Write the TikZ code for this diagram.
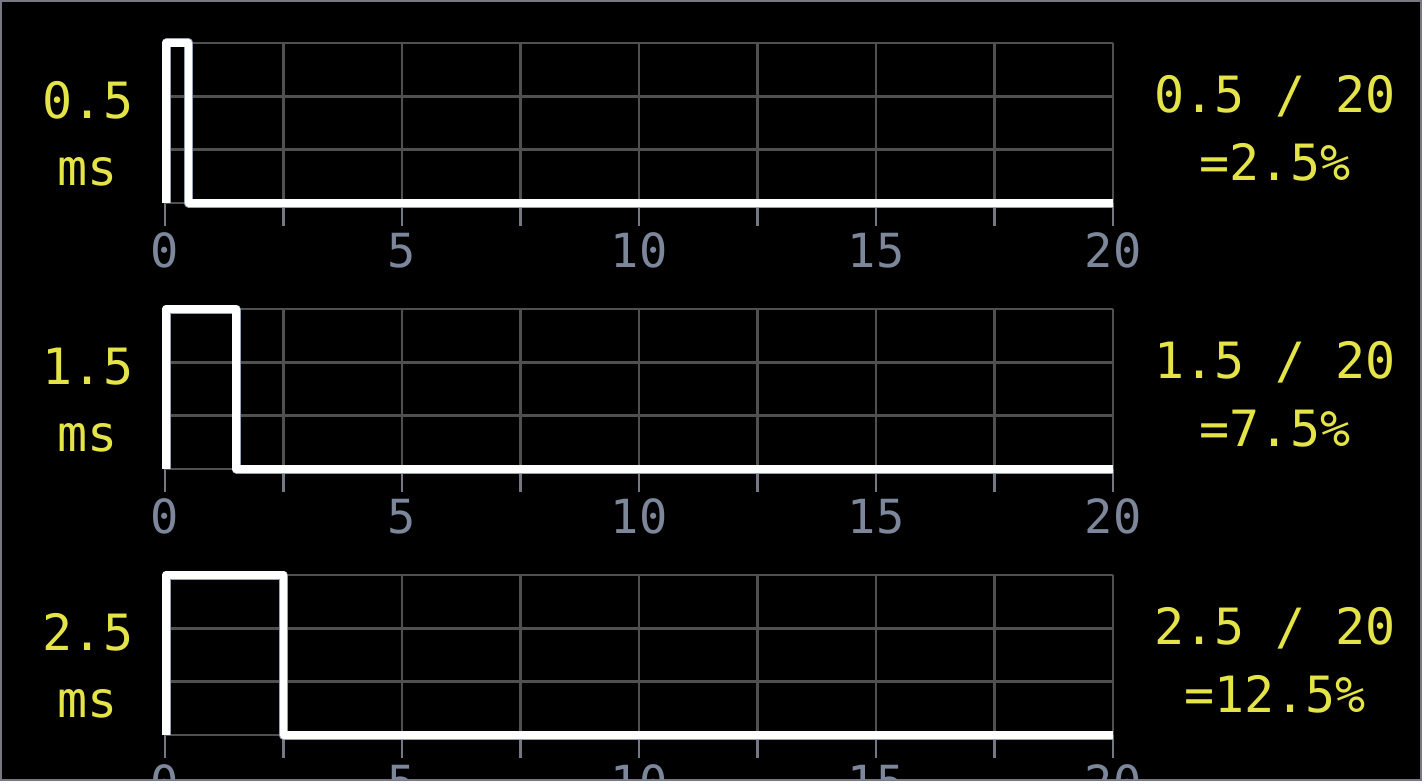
\documentclass[tikz,border=0pt]{standalone}
\usepackage{fontspec}
\newfontfamily\segfont{DejaVu Sans Mono}
\definecolor{labyellow}{RGB}{228,228,72}
\definecolor{axgray}{RGB}{125,135,155}
\definecolor{gridgray}{RGB}{80,80,80}
\definecolor{tickgray}{RGB}{115,120,130}
\definecolor{framegray}{RGB}{120,120,130}
\definecolor{pulseedge}{RGB}{150,160,180}
\tikzset{
  gridline/.style={draw=gridgray, line width=2.4},
  tickline/.style={draw=tickgray, line width=2.6},
  pulseout/.style={draw=pulseedge, line width=9, line join=round},
  pulsein/.style={draw=white, line width=7.5, line join=round},
  ylabel/.style={text=labyellow, font=\segfont\fontsize{50}{60}\selectfont, anchor=base, inner sep=0pt},
  axlabel/.style={text=axgray, font=\segfont\fontsize{47}{56}\selectfont, anchor=base, inner sep=0pt}
}
\begin{document}
\begin{tikzpicture}[x=1pt,y=-1pt]
\useasboundingbox (0,0) rectangle (1425,784);
\fill[white] (0,0) rectangle (1425,784);
\filldraw[fill=black, draw=framegray, line width=2] (1,1) rectangle (1421,780);
\begin{scope}
\clip (2,2) rectangle (1420,779);
\foreach \i/\w/\pct in {0/0.5/2.5, 1/1.5/7.5, 2/2.5/12.5} {
  \pgfmathsetmacro\oy{266*\i}
  % grid
  \foreach \k in {0,...,8} {
    \draw[gridline] (165+118.5*\k, 43+\oy) -- (165+118.5*\k, 203+\oy);
    \draw[tickline] (165+118.5*\k, 203+\oy) -- (165+118.5*\k, 226+\oy);
  }
  \foreach \yy in {43, 96.33, 149.67, 203} {
    \draw[gridline] (165, \yy+\oy) -- (1113, \yy+\oy);
  }
  % axis labels
  \foreach \k in {0,2,4,6,8} {
    \pgfmathtruncatemacro\val{2.5*\k}
    \node[axlabel] (ax\i\k) at (165+118.5*\k, 267+\oy) {\val};
  }
  % pulse
  \draw[pulseout] (166,203+\oy) -- (166,43+\oy) -- (165+47.4*\w,43+\oy) -- (165+47.4*\w,203+\oy) -- (1113,203+\oy);
  \draw[pulsein] (166,203+\oy) -- (166,43+\oy) -- (165+47.4*\w,43+\oy) -- (165+47.4*\w,203+\oy) -- (1113,203+\oy);
  % labels
  \node[ylabel] (lv\i) at (88, 118+\oy) {\w};
  \node[ylabel] (lu\i) at (88, 185+\oy) {ms};
  \node[ylabel] (rf\i) at (1275, 112+\oy) {\w\ / 20};
  \node[ylabel] (rp\i) at (1275, 180+\oy) {=\pct\%};
}
\end{scope}
\end{tikzpicture}
\end{document}
